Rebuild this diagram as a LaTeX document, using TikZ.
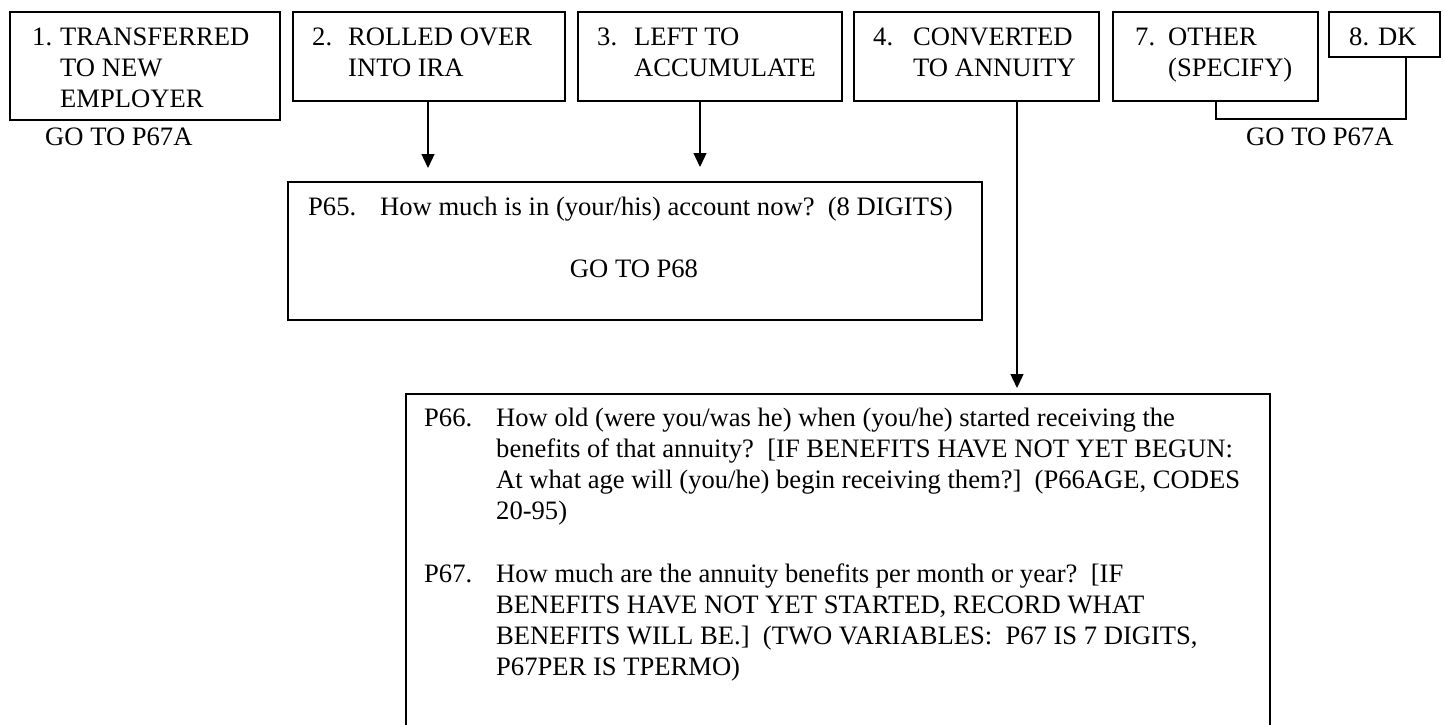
\documentclass[tikz,border=0pt]{standalone}
\usepackage{fontspec}
\setmainfont{Liberation Serif}
\usetikzlibrary{arrows.meta}
\begin{document}
\begin{tikzpicture}[x=1pt,y=-1pt,
  box/.style={draw, line width=1.5pt, inner sep=0pt, anchor=north west},
  txt/.style={inner sep=0pt, anchor=base west, font=\fontsize{26.6}{31}\selectfont\frenchspacing},
  conn/.style={line width=1.3pt},
  arr/.style={conn, -{Triangle[length=14pt,width=13pt]}}]
\useasboundingbox[fill=white] (0,0) rectangle (1444,724);
% boxes
\node[box, minimum width=270pt, minimum height=108pt] (b1) at (9,11) {};
\node[box, minimum width=272pt, minimum height=89pt] (b2) at (292,11) {};
\node[box, minimum width=264pt, minimum height=89pt] (b3) at (577,11) {};
\node[box, minimum width=245pt, minimum height=89pt] (b4) at (853,11) {};
\node[box, minimum width=205pt, minimum height=89pt] (b7) at (1112,11) {};
\node[box, minimum width=111pt, minimum height=45pt] (b8) at (1328,11) {};
\node[box, minimum width=694pt, minimum height=138pt] (p65) at (287,181) {};
\node[box, minimum width=864pt, minimum height=360pt] (p66) at (405,393) {};
% texts
\node[txt] (t1) at (32,45.5) {\begin{tabular}[t]{@{}p{28pt}@{}l@{}}1.&TRANSFERRED\\&TO NEW\\&EMPLOYER\end{tabular}};
\node[txt] (t2) at (312,45.5) {\begin{tabular}[t]{@{}p{36pt}@{}l@{}}2.&ROLLED OVER\\&INTO IRA\end{tabular}};
\node[txt] (t3) at (597,45.5) {\begin{tabular}[t]{@{}p{37pt}@{}l@{}}3.&LEFT TO\\&ACCUMULATE\end{tabular}};
\node[txt] (t4) at (873,45.5) {\begin{tabular}[t]{@{}p{40pt}@{}l@{}}4.&CONVERTED\\&TO ANNUITY\end{tabular}};
\node[txt] (t7) at (1135,45.5) {\begin{tabular}[t]{@{}p{33pt}@{}l@{}}7.&OTHER\\&(SPECIFY)\end{tabular}};
\node[txt] (t8) at (1349,45.5) {\begin{tabular}[t]{@{}p{29pt}@{}l@{}}8.&DK\end{tabular}};
\node[txt] (g1) at (45,145.5) {GO TO P67A};
\node[txt] (g2) at (1246,145.5) {GO TO P67A};
\node[txt] (q65) at (308,215) {\begin{tabular}[t]{@{}p{72pt}@{}l@{}}P65.&How much is in (your/his) account now?\ \ (8 DIGITS)\end{tabular}};
\node[txt, anchor=base] (g68) at (634,277) {GO TO P68};
\node[txt] (q66) at (424,426.5) {\begin{tabular}[t]{@{}p{72pt}@{}l@{}}P66.&How old (were you/was he) when (you/he) started receiving the\\
&benefits of that annuity?\ \ [IF BENEFITS HAVE NOT YET BEGUN:\\
&At what age will (you/he) begin receiving them?]\ \ (P66AGE, CODES\\
&20-95)\end{tabular}};
\node[txt] (q67) at (424,582) {\begin{tabular}[t]{@{}p{72pt}@{}l@{}}P67.&How much are the annuity benefits per month or year?\ \ [IF\\
&BENEFITS HAVE NOT YET STARTED, RECORD WHAT\\
&BENEFITS WILL BE.]\ \ (TWO VARIABLES:\ \ P67 IS 7 DIGITS,\\
&P67PER IS TPERMO)\end{tabular}};
% connectors
\coordinate (a2) at (428,168);
\coordinate (a3) at (700,167);
\coordinate (a4) at (1017,388);
\coordinate (k1) at (1216,119);
\coordinate (k2) at (1406,119);
\draw[arr] (b2.south -| a2) -- (a2);
\draw[arr] (b3.south -| a3) -- (a3);
\draw[arr] (b4.south -| a4) -- (a4);
\draw[conn] (b7.south -| k1) -- (k1) -- (k2) -- (b8.south -| k2);
\end{tikzpicture}
\end{document}
